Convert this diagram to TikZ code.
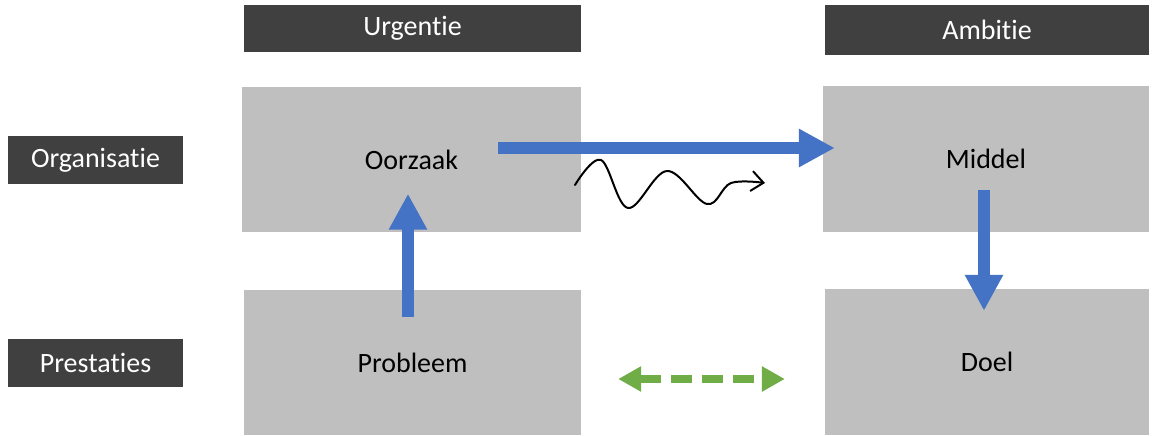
\documentclass[tikz,border=0pt]{standalone}
\usepackage{fontspec}
\setmainfont{Carlito}[Ligatures=NoCommon]
\usetikzlibrary{arrows.meta,calc}
\definecolor{hdr}{HTML}{404040}
\definecolor{cell}{HTML}{BFBFBF}
\definecolor{blu}{HTML}{4472C4}
\definecolor{grn}{HTML}{70AD47}
\begin{document}
\begin{tikzpicture}[x=1pt,y=-1pt,
  header/.style={fill=hdr,text=white,inner sep=0pt,font=\fontsize{28}{30}\selectfont},
  cellbox/.style={fill=cell,text=black,inner sep=0pt,font=\fontsize{28}{30}\selectfont},
  bluearrow/.style={draw=blu,line width=12pt,-{Triangle[width=36pt,length=36pt]}},
  greenarrow/.style={draw=grn,line width=8pt,dash pattern=on 21pt off 10pt,{Triangle[width=24pt,length=23pt]}-{Triangle[width=24pt,length=23pt]}},
  wave/.style={draw=black,line width=2pt,line cap=round,line join=round,-{Straight Barb[length=12pt,width=20pt,line width=2pt]}}]
\useasboundingbox (0,0) rectangle (1152,436);
\node[header,minimum width=337pt,minimum height=47pt] (urg) at (412.5,28.5) {Urgentie};
\node[header,minimum width=324pt,minimum height=50pt] (amb) at (987,30) {Ambitie};
\node[header,minimum width=175pt,minimum height=48pt] (org) at (95.5,160) {Organisatie};
\node[header,minimum width=175pt,minimum height=48pt] (pre) at (95.5,363) {Prestaties};
\node[cellbox,minimum width=339pt,minimum height=145pt] (oor) at (411.5,159.5) {Oorzaak};
\node[cellbox,minimum width=326pt,minimum height=146pt] (mid) at (986,159) {Middel};
\node[cellbox,minimum width=337pt,minimum height=145pt] (pro) at (412.5,362.5) {Probleem};
\node[cellbox,minimum width=324pt,minimum height=146pt] (doe) at (987,362) {Doel};
% arrow end points
\coordinate (h1) at ($(oor.east)+(-83,-11.5)$);
\coordinate (h2) at ($(mid.west)+(12,-11)$);
\coordinate (u1) at ($(pro.north)+(-4.5,27.5)$);
\coordinate (u2) at ($(oor.south)+(-3.5,-38.5)$);
\coordinate (d1) at ($(mid.south)+(-2,-42)$);
\coordinate (d2) at ($(doe.north)+(-3,22)$);
\coordinate (g1) at ($(pro.east)+(37,16.5)$);
\coordinate (g2) at ($(doe.west)+(-40,17)$);
\draw[bluearrow] (h1) -- (h2);
\draw[bluearrow] (u1) -- (u2);
\draw[bluearrow] (d1) -- (d2);
\draw[greenarrow] (g1) -- (g2);
\draw[wave] plot[smooth,tension=0.6] coordinates {(575,185) (601,160) (628,208) (667,171) (707,204) (731,183) (765,183)};
\end{tikzpicture}
\end{document}
